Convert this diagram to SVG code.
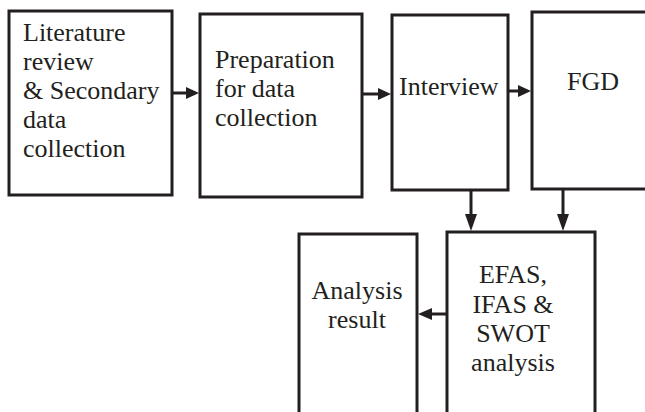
<svg xmlns="http://www.w3.org/2000/svg" width="645" height="412" viewBox="0 0 645 412" font-family="Liberation Serif, Times New Roman, serif">
  <style>
    .box { fill: #ffffff; stroke: #231f20; stroke-width: 3; }
    .link { stroke: #231f20; stroke-width: 3; fill: none; }
    .head { fill: #231f20; }
  </style>
  <rect width="645" height="412" fill="#ffffff"/>

  <g id="literature">
    <rect class="box" x="9" y="11" width="163" height="184"/>
    <text x="23" y="41" style="font-family: 'Liberation Serif', serif; font-size: 26px; fill: #231f20">Literature</text>
    <text x="23" y="70" style="font-family: 'Liberation Serif', serif; font-size: 26px; fill: #231f20">review</text>
    <text x="23" y="99" style="font-family: 'Liberation Serif', serif; font-size: 26px; fill: #231f20">&#38; Secondary</text>
    <text x="23" y="128" style="font-family: 'Liberation Serif', serif; font-size: 26px; fill: #231f20">data</text>
    <text x="23" y="157" style="font-family: 'Liberation Serif', serif; font-size: 26px; fill: #231f20">collection</text>
  </g>

  <g id="preparation">
    <rect class="box" x="200" y="14" width="162" height="183"/>
    <text x="215" y="68" style="font-family: 'Liberation Serif', serif; font-size: 26px; fill: #231f20">Preparation</text>
    <text x="215" y="97" style="font-family: 'Liberation Serif', serif; font-size: 26px; fill: #231f20">for data</text>
    <text x="215" y="126" style="font-family: 'Liberation Serif', serif; font-size: 26px; fill: #231f20">collection</text>
  </g>

  <g id="interview">
    <rect class="box" x="392" y="15" width="116" height="175"/>
    <text x="399" y="95" style="font-family: 'Liberation Serif', serif; font-size: 26px; fill: #231f20">Interview</text>
  </g>

  <g id="fgd">
    <rect class="box" x="532" y="12" width="130" height="177"/>
    <text x="567" y="90" style="font-family: 'Liberation Serif', serif; font-size: 26px; fill: #231f20">FGD</text>
  </g>

  <g id="analysis-tools">
    <rect class="box" x="447" y="232" width="148" height="200"/>
    <text x="513" y="283" text-anchor="middle" style="font-family: 'Liberation Serif', serif; font-size: 26px; fill: #231f20">EFAS,</text>
    <text x="513" y="313" text-anchor="middle" style="font-family: 'Liberation Serif', serif; font-size: 26px; fill: #231f20">IFAS &#38;</text>
    <text x="513" y="342" text-anchor="middle" style="font-family: 'Liberation Serif', serif; font-size: 26px; fill: #231f20">SWOT</text>
    <text x="513" y="371" text-anchor="middle" style="font-family: 'Liberation Serif', serif; font-size: 26px; fill: #231f20">analysis</text>
  </g>

  <g id="analysis-result">
    <rect class="box" x="299" y="234" width="118" height="200"/>
    <text x="357" y="299" text-anchor="middle" style="font-family: 'Liberation Serif', serif; font-size: 26px; fill: #231f20">Analysis</text>
    <text x="357" y="328" text-anchor="middle" style="font-family: 'Liberation Serif', serif; font-size: 26px; fill: #231f20">result</text>
  </g>

  <g id="connectors">
    <line class="link" x1="172" y1="93" x2="188" y2="93"/>
    <polygon class="head" points="186,87 199,93 186,99"/>
    <line class="link" x1="362" y1="94" x2="380" y2="94"/>
    <polygon class="head" points="378,88 391,94 378,100"/>
    <line class="link" x1="508" y1="91" x2="520" y2="91"/>
    <polygon class="head" points="518,85 531,91 518,97"/>
    <line class="link" x1="471" y1="190" x2="471" y2="216"/>
    <polygon class="head" points="465,214 471,231 477,214"/>
    <line class="link" x1="563" y1="189" x2="563" y2="216"/>
    <polygon class="head" points="557,214 563,231 569,214"/>
    <line class="link" x1="447" y1="314" x2="430" y2="314"/>
    <polygon class="head" points="432,308 418,314 432,320"/>
  </g>
</svg>
